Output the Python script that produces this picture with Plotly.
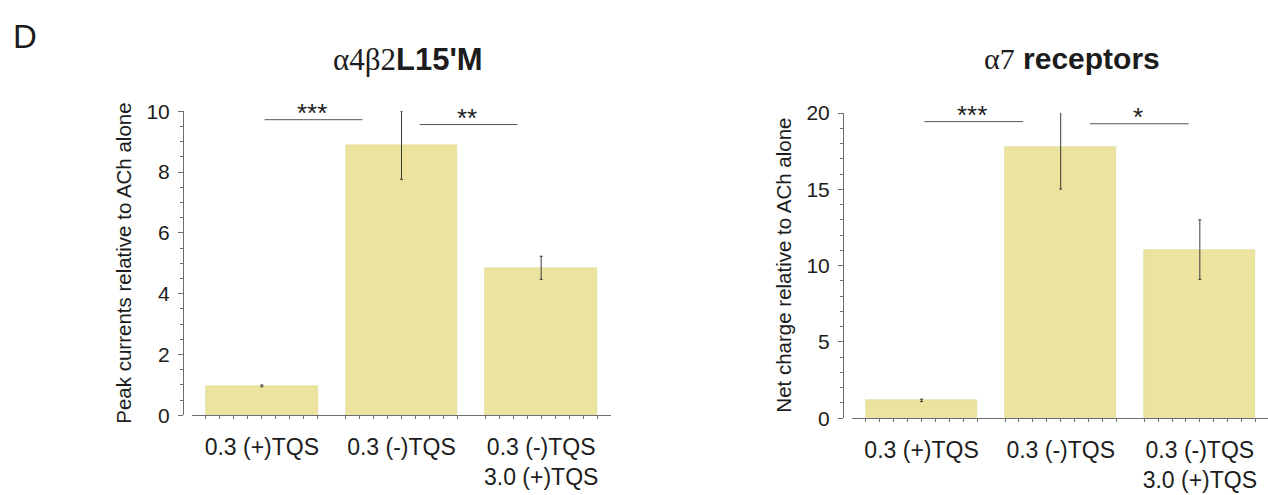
import numpy as np
import plotly.graph_objects as go

# Treatment groups (concentrations in µM)
categories = ["0.3 (+)TQS", "0.3 (-)TQS", "0.3 (-)TQS<br>3.0 (+)TQS"]

# α4β2L15'M: peak currents relative to ACh alone (mean, SEM)
a4b2_mean = [0.97, 8.88, 4.85]
a4b2_sem = [0.03, 1.12, 0.38]

# α7 receptors: net charge relative to ACh alone (mean, SEM)
a7_mean = [1.17, 17.75, 11.05]
a7_sem = [0.08, 2.73, 1.95]

# significance brackets: (x start, x end, height, label)
a4b2_sig = [(1.02, 1.72, 9.72, "***"), (2.13, 2.83, 9.56, "**")]
a7_sig = [(1.02, 1.73, 19.44, "***"), (2.21, 2.92, 19.30, "*")]

W, H = 1268, 495
BAR = "rgb(235,227,158)"
INK = "#1c1c1c"
AXC = "#6e6e6e"
SANS = "Liberation Sans, Arial, Helvetica, sans-serif"
SERIF = "Liberation Serif, Times New Roman, serif"

xpos = np.arange(1, len(categories) + 1)
bar_w = 0.8
# small ticks along each bar footprint
minor_x = np.concatenate([np.round(np.arange(c - bar_w / 2, c + bar_w / 2 + 1e-9, 0.1), 2) for c in xpos])


def px(v, total):
    return v / total


fig = go.Figure()

panels = [
    dict(mean=a4b2_mean, sem=a4b2_sem, sig=a4b2_sig, xa="x", ya="y"),
    dict(mean=a7_mean, sem=a7_sem, sig=a7_sig, xa="x2", ya="y2"),
]

for p in panels:
    fig.add_trace(go.Bar(
        x=xpos, y=p["mean"], width=bar_w,
        marker=dict(color=BAR, line=dict(color="rgb(222,213,140)", width=0.6)),
        error_y=dict(type="data", array=p["sem"], visible=True,
                     color="#3a3a3a", thickness=1, width=1.5),
        xaxis=p["xa"], yaxis=p["ya"], showlegend=False, hoverinfo="skip",
    ))
    for x0, x1, yv, lab in p["sig"]:
        fig.add_shape(type="line", x0=x0, x1=x1, y0=yv, y1=yv,
                      xref=p["xa"], yref=p["ya"],
                      line=dict(color="#555555", width=1))
        fig.add_annotation(x=(x0 + x1) / 2 - 0.01, y=yv, xref=p["xa"], yref=p["ya"],
                           text=lab, showarrow=False, yanchor="middle", yshift=7,
                           font=dict(family=SANS, size=26, color=INK))

xcommon = dict(
    range=[0.5, 3.5], tickvals=xpos, ticktext=categories,
    ticks="outside", ticklen=3, tickcolor=AXC, tickwidth=1,
    showline=True, linecolor=AXC, linewidth=1, zeroline=False, showgrid=False,
    tickfont=dict(family=SANS, size=23, color=INK), ticklabelstandoff=8,
    minor=dict(tickmode="array", tickvals=minor_x, ticks="outside",
               ticklen=3, tickcolor=AXC, tickwidth=1),
)
ycommon = dict(
    ticks="outside", ticklen=5, tickcolor=AXC, tickwidth=1,
    showline=True, linecolor=AXC, linewidth=1, zeroline=False, showgrid=False,
    tickfont=dict(family=SANS, size=21, color=INK), ticklabelstandoff=4,
    anchor="free",
)

fig.update_layout(
    width=W, height=H, margin=dict(l=0, r=0, t=0, b=0),
    paper_bgcolor="white", plot_bgcolor="white", bargap=0,
    xaxis=dict(xcommon, domain=[px(192, W), px(611, W)], anchor="y"),
    yaxis=dict(ycommon, domain=[1 - 423 / H, 1 - 104 / H], range=[0, 10],
               dtick=2, minor=dict(dtick=0.5, ticks="outside", ticklen=3,
                                   tickcolor=AXC, tickwidth=1),
               position=px(183, W)),
    xaxis2=dict(xcommon, domain=[px(852, W), 1.0], anchor="y2", range=[0.5, 3.49]),
    yaxis2=dict(ycommon, domain=[1 - 426 / H, 1 - 106 / H], range=[0, 20],
                dtick=5, minor=dict(dtick=1, ticks="outside", ticklen=3,
                                    tickcolor=AXC, tickwidth=1),
                position=px(843, W)),
)

# panel letter, titles and axis titles
fig.add_annotation(x=px(25, W), y=1 - 26 / H, xref="paper", yref="paper",
                   text="D", showarrow=False, xanchor="center", yanchor="middle",
                   font=dict(family=SANS, size=33, color=INK))
fig.add_annotation(x=px(408, W), y=1 - 50 / H, xref="paper", yref="paper",
                   text=f"<span style='font-family:{SERIF}'>α4β2</span><b>L15'M</b>",
                   showarrow=False, xanchor="center", yanchor="middle",
                   font=dict(family=SANS, size=31, color=INK))
fig.add_annotation(x=px(1072, W), y=1 - 49 / H, xref="paper", yref="paper",
                   text=f"<span style='font-family:{SERIF}'>α7</span> <b>receptors</b>",
                   showarrow=False, xanchor="center", yanchor="middle",
                   font=dict(family=SANS, size=30, color=INK))
fig.add_annotation(x=px(124, W), y=1 - 264 / H, xref="paper", yref="paper",
                   text="Peak currents relative to ACh alone", textangle=-90,
                   showarrow=False, xanchor="center", yanchor="middle",
                   font=dict(family=SANS, size=20.5, color=INK))
fig.add_annotation(x=px(784, W), y=1 - 266 / H, xref="paper", yref="paper",
                   text="Net charge relative to ACh alone", textangle=-90,
                   showarrow=False, xanchor="center", yanchor="middle",
                   font=dict(family=SANS, size=20.5, color=INK))

fig.write_html("out.html")
